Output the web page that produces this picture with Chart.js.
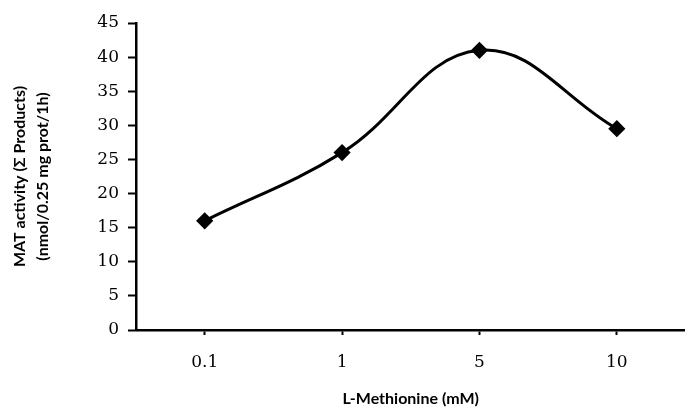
<!DOCTYPE html>
<html>
<head>
<meta charset="utf-8">
<script src="https://cdn.jsdelivr.net/npm/chart.js@4.4.1/dist/chart.umd.min.js"></script>
<style>
  html, body { margin: 0; padding: 0; background: #fff; overflow: hidden; }
  #wrap { width: 695px; height: 410px; }
</style>
</head>
<body>
<div id="wrap"><canvas id="matChart"></canvas></div>
<script>
  // L-Methionine concentrations (mM) and MAT activity values
  const doses = ['0.1', '1', '5', '10'];
  const activity = [16, 26, 41, 29.5];
  const yTicks = [0, 5, 10, 15, 20, 25, 30, 35, 40, 45];

  const tickFont = { family: 'DejaVu Serif', size: 17 };
  const titleFont = { family: 'Lato', size: 16, weight: 'bold', lineHeight: 1.45 };

  const ctx = document.getElementById('matChart').getContext('2d');

  const chart = new Chart(ctx, {
    type: 'line',
    data: {
      labels: doses,
      datasets: [{
        data: activity,
        borderColor: '#000',
        backgroundColor: '#000',
        borderWidth: 3,
        tension: 0.4,
        pointStyle: 'rectRot',
        pointRadius: 6.5,
        pointHoverRadius: 6.5,
        fill: false
      }]
    },
    options: {
      responsive: true,
      maintainAspectRatio: false,
      animation: false,
      layout: { padding: { top: 23, right: 5, bottom: 0, left: 0 } },
      plugins: {
        legend: { display: false },
        tooltip: { enabled: false }
      },
      scales: {
        x: {
          offset: true,
          grid: {
            drawOnChartArea: false,
            drawTicks: true,
            tickLength: 5,
            tickWidth: 2,
            tickColor: '#000',
            offset: false
          },
          border: { display: true, color: '#000', width: 2.5 },
          ticks: { color: '#000', font: tickFont, padding: 17, maxRotation: 0 },
          title: {
            display: true,
            text: 'L-Methionine (mM)',
            color: '#000',
            font: titleFont,
            padding: { top: 8, bottom: 0 }
          },
          afterFit: (scale) => { scale.height = 80; }
        },
        y: {
          min: 0,
          max: 45,
          afterBuildTicks: (scale) => { scale.ticks = yTicks.map(v => ({ value: v })); },
          grid: {
            drawOnChartArea: false,
            drawTicks: true,
            tickLength: 8,
            tickWidth: 2,
            tickColor: '#000'
          },
          border: { display: true, color: '#000', width: 2.5 },
          ticks: { color: '#000', font: tickFont, padding: 9 },
          title: {
            display: true,
            text: ['MAT activity (Σ Products)', '(nmol/0.25 mg prot/1h)'],
            color: '#000',
            font: titleFont,
            padding: { top: 8, bottom: 0 }
          },
          afterFit: (scale) => { scale.width = 136; }
        }
      }
    }
  });
</script>
</body>
</html>
